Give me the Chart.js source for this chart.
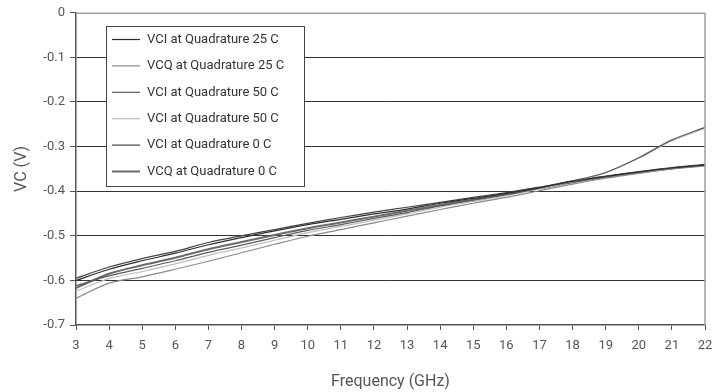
<!DOCTYPE html>
<html>
<head>
<meta charset="utf-8">
<script src="https://cdn.jsdelivr.net/npm/chart.js@4/dist/chart.umd.min.js"></script>
<style>
  html, body { margin: 0; padding: 0; background: #fff; }
  #wrap { width: 721px; height: 392px; }
</style>
</head>
<body>
<div id="wrap"><canvas id="miGrafico"></canvas></div>
<script>
// Frecuencias (GHz)
const frecuencias = [3, 4, 5, 6, 7, 8, 9, 10, 11, 12, 13, 14, 15, 16, 17, 18, 19, 20, 21, 22];

// Series (V)
const vci25 = [-0.600, -0.575, -0.556, -0.539, -0.520, -0.504, -0.489, -0.475, -0.463, -0.451, -0.440, -0.427, -0.416, -0.405, -0.392, -0.378, -0.367, -0.357, -0.348, -0.341];
const vcq25 = [-0.640, -0.606, -0.592, -0.575, -0.557, -0.538, -0.519, -0.501, -0.486, -0.471, -0.456, -0.441, -0.427, -0.414, -0.399, -0.384, -0.371, -0.360, -0.350, -0.343];
const vci50 = [-0.612, -0.590, -0.573, -0.556, -0.537, -0.521, -0.504, -0.488, -0.475, -0.461, -0.448, -0.433, -0.420, -0.408, -0.393, -0.377, -0.358, -0.325, -0.285, -0.257];
const vcq50 = [-0.624, -0.596, -0.580, -0.563, -0.544, -0.527, -0.510, -0.493, -0.479, -0.465, -0.451, -0.436, -0.423, -0.410, -0.395, -0.378, -0.359, -0.326, -0.287, -0.259];
const vci0  = [-0.595, -0.570, -0.551, -0.535, -0.515, -0.500, -0.486, -0.472, -0.459, -0.447, -0.436, -0.425, -0.414, -0.403, -0.391, -0.377, -0.366, -0.356, -0.347, -0.340];
const vcq0  = [-0.617, -0.585, -0.566, -0.549, -0.530, -0.514, -0.498, -0.483, -0.470, -0.457, -0.444, -0.431, -0.419, -0.407, -0.394, -0.380, -0.368, -0.358, -0.349, -0.342];

const etiquetas = ["VCI at Quadrature 25 C", "VCQ at Quadrature 25 C", "VCI at Quadrature 50 C",
                   "VCI at Quadrature 50 C", "VCI at Quadrature 0 C", "VCQ at Quadrature 0 C"];
const colores = ["#2e2e2e", "#8a8a8a", "#5a5a5a", "#bdbdbd", "#444444", "#6a6a6a"];
const grosores = [1.2, 1.2, 1.2, 1.2, 1.2, 2];
const series = [vci25, vcq25, vci50, vcq50, vci0, vcq0];

const fuente = "Roboto, 'DejaVu Sans', sans-serif";

// Leyenda dibujada dentro del area del grafico, con borde del area
const leyendaInterna = {
  id: "leyendaInterna",
  afterDraw(chart) {
    const ctx = chart.ctx;
    const a = chart.chartArea;
    ctx.save();
    // borde superior y derecho del area
    ctx.strokeStyle = "#a0a0a0";
    ctx.lineWidth = 1.5;
    ctx.beginPath();
    ctx.moveTo(a.left, a.top + 0.5);
    ctx.lineTo(a.right, a.top + 0.5);
    ctx.lineTo(a.right, a.bottom);
    ctx.stroke();
    // caja
    const x0 = 106.5, y0 = 26.5, w = 198, h = 160;
    ctx.fillStyle = "#fff";
    ctx.fillRect(x0, y0, w, h);
    ctx.strokeStyle = "#444";
    ctx.lineWidth = 1;
    ctx.strokeRect(x0, y0, w, h);
    ctx.font = "13px " + fuente;
    ctx.textBaseline = "middle";
    chart.data.datasets.forEach((ds, i) => {
      const y = 39.5 + i * 26.4;
      ctx.strokeStyle = ds.borderColor;
      ctx.lineWidth = ds.borderWidth;
      ctx.beginPath();
      ctx.moveTo(112, y);
      ctx.lineTo(140, y);
      ctx.stroke();
      ctx.fillStyle = "#333";
      ctx.fillText(ds.label, 147, y);
    });
    ctx.restore();
  }
};

const datos = {
  datasets: series.map((s, i) => ({
    label: etiquetas[i],
    data: frecuencias.map((f, j) => ({ x: f, y: s[j] })),
    borderColor: colores[i],
    borderWidth: grosores[i],
    pointRadius: 0,
    tension: 0.3,
    fill: false
  }))
};

const config = {
  type: "line",
  data: datos,
  plugins: [leyendaInterna],
  options: {
    responsive: true,
    maintainAspectRatio: false,
    animation: false,
    layout: { padding: { left: 0, right: 16, top: 12, bottom: 0 } },
    plugins: { legend: { display: false }, tooltip: { enabled: false } },
    scales: {
      x: {
        type: "linear",
        min: 3,
        max: 22,
        afterFit(scale) { scale.height = 67; },
        border: { color: "#555", width: 1.5 },
        grid: { drawOnChartArea: false, drawTicks: true, tickLength: 5, color: "#555" },
        ticks: { stepSize: 1, padding: 8, color: "#555", font: { family: fuente, size: 13 }, maxRotation: 0 },
        title: { display: true, text: "Frequency (GHz)", color: "#555", font: { family: fuente, size: 16 }, padding: { top: 2, bottom: 0 } }
      },
      y: {
        min: -0.7,
        max: 0,
        afterFit(scale) { scale.width = 76; },
        border: { color: "#555", width: 1.5 },
        grid: {
          tickLength: 6,
          color: (c) => (c.tick && (c.tick.value === 0 || c.tick.value === -0.7)) ? "rgba(0,0,0,0)" : "#333",
          tickColor: "#555",
          lineWidth: 1
        },
        ticks: {
          stepSize: 0.1,
          padding: 5,
          color: "#555",
          font: { family: fuente, size: 13 },
          callback: (v) => (Math.abs(v) < 1e-9 ? "0" : (Math.round(v * 10) / 10).toString())
        },
        title: { display: true, text: "VC (V)", color: "#555", font: { family: fuente, size: 16 }, padding: { top: 12, bottom: 0 } }
      }
    }
  }
};

const ctx = document.getElementById("miGrafico").getContext("2d");
new Chart(ctx, config);
</script>
</body>
</html>
